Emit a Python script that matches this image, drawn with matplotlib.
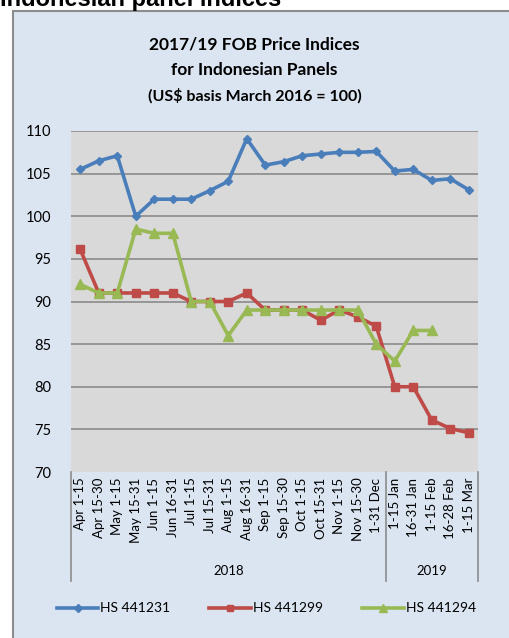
import matplotlib.pyplot as plt
from matplotlib.patches import Rectangle
import matplotlib.transforms as mtransforms

periods = ["Apr 1-15", "Apr 15-30", "May 1-15", "May 15-31", "Jun 1-15", "Jun 16-31",
           "Jul 1-15", "Jul 15-31", "Aug 1-15", "Aug 16-31", "Sep 1-15", "Sep 15-30",
           "Oct 1-15", "Oct 15-31", "Nov 1-15", "Nov 15-30", "1-31 Dec",
           "1-15 Jan", "16-31 Jan", "1-15 Feb", "16-28 Feb", "1-15 Mar"]
years = ["2018", "2019"]
n_2018 = 17

hs441231 = [105.5, 106.5, 107.1, 100.0, 102.0, 102.0, 102.0, 103.0, 104.1, 109.1, 106.0,
            106.4, 107.1, 107.3, 107.5, 107.5, 107.6, 105.3, 105.5, 104.2, 104.4, 103.1]
hs441299 = [96.1, 91.0, 91.0, 91.0, 91.0, 91.0, 90.0, 90.0, 90.0, 91.0, 89.0,
            89.0, 89.0, 87.8, 89.0, 88.2, 87.1, 80.0, 80.0, 76.1, 75.1, 74.6]
hs441294 = [92.0, 91.0, 91.0, 98.5, 98.0, 98.0, 90.0, 90.0, 86.0, 89.0, 89.0,
            89.0, 89.0, 89.0, 89.0, 89.0, 85.0, 83.0, 86.6, 86.6]

font = "Lato"
fig = plt.figure(figsize=(5.09, 6.38), dpi=100)
fig.patch.set_facecolor("white")

# chart frame
frame = Rectangle((13 / 509, -0.01), 1.0, (638 - 11) / 638 + 0.01,
                  transform=fig.transFigure, facecolor="#dbe5f1",
                  edgecolor="#8c8c8c", linewidth=1.5, zorder=-5)
fig.patches.append(frame)
fig.text(0.0, 1 - 6 / 638, "Indonesian panel indices", fontsize=17, fontweight="bold",
         family="Liberation Sans", va="baseline", ha="left")

fig.text(0.5, 1 - 45 / 638, "2017/19 FOB Price Indices", fontsize=12.5, fontweight="bold",
         family=font, ha="center", va="center")
fig.text(0.5, 1 - 70 / 638, "for Indonesian Panels", fontsize=12.5, fontweight="bold",
         family=font, ha="center", va="center")
fig.text(0.5, 1 - 96 / 638, "(US$ basis March 2016 = 100)", fontsize=11.5, fontweight="bold",
         family=font, ha="center", va="center")

ax = fig.add_axes([71 / 509, 1 - 472 / 638, (478 - 71) / 509, (472 - 131) / 638])
ax.set_zorder(2)
ax.set_facecolor("#d9d9d9")
for s in ax.spines.values():
    s.set_visible(False)

x = list(range(len(periods)))
ax.plot(x, hs441231, color="#4a7ebb", lw=2.6, marker="D", ms=4.5, label="HS 441231")
ax.plot(x, hs441299, color="#be4b48", lw=2.6, marker="s", ms=5.5, label="HS 441299")
ax.plot(x[:len(hs441294)], hs441294, color="#98b954", lw=2.6, marker="^", ms=6.5,
        label="HS 441294")

ax.set_ylim(70, 110)
ax.set_xlim(-0.5, len(periods) - 0.5)
ax.set_yticks(range(70, 111, 5))
for v in range(75, 111, 5):
    ax.axhline(v, color="#8a8a8a", lw=1.2, zorder=0)
ax.tick_params(axis="y", length=0, pad=14, labelsize=10.5)
ax.set_xticks(x)
ax.set_xticklabels(periods, rotation=90, fontsize=9.5, family=font)
ax.tick_params(axis="x", length=0, pad=4)
for lab in ax.get_yticklabels():
    lab.set_family(font)

trans = mtransforms.blended_transform_factory(ax.transData, ax.transAxes)
for xs in [-0.5, n_2018 - 0.5, len(periods) - 0.5]:
    ax.plot([xs, xs], [0, -0.32], transform=trans, color="#8c8c8c", lw=1.2, clip_on=False)
ax.text((n_2018 - 1) / 2, -0.29, years[0], transform=trans, ha="center", va="center",
        fontsize=9.5, family=font)
ax.text((n_2018 + len(periods) - 1) / 2, -0.29, years[1], transform=trans, ha="center",
        va="center", fontsize=9.5, family=font)

leg = ax.legend(loc="center", bbox_to_anchor=(0.48, -0.4), ncol=3, frameon=False,
                prop={"family": font, "size": 10}, handlelength=3.0, columnspacing=2.8,
                handletextpad=0.15, markerscale=0.8)

fig.savefig("out.png", dpi=100)
